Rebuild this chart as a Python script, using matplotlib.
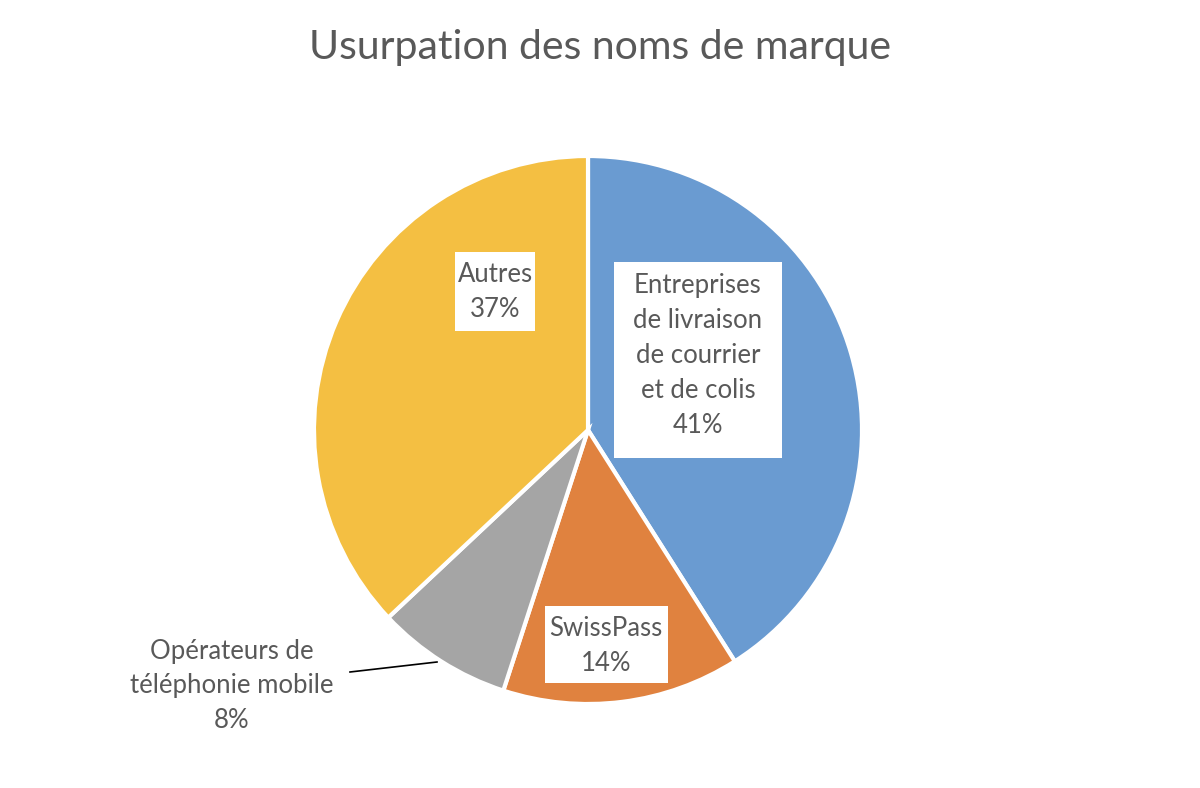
import matplotlib
matplotlib.use("Agg")
import matplotlib.pyplot as plt
from matplotlib.patches import Rectangle

title = "Usurpation des noms de marque"
categories = ["Entreprises\nde livraison\nde courrier\net de colis", "SwissPass",
              "Opérateurs de\ntéléphonie mobile", "Autres"]
values = [41, 14, 8, 37]
colors = ["#6A9BD1", "#E0823F", "#A5A5A5", "#F4BF42"]

W, H = 1200, 788
fig = plt.figure(figsize=(W / 100, H / 100), dpi=100)
ax = fig.add_axes([0, 0, 1, 1])
ax.set_xlim(0, W)
ax.set_ylim(0, H)
ax.set_aspect("equal")
ax.axis("off")

cx, cy, r = 588, H - 430, 274
wedges, _ = ax.pie(values, colors=colors, startangle=90, counterclock=False,
                   center=(cx, cy), radius=r,
                   wedgeprops=dict(edgecolor="white", linewidth=3))
ax.set_xlim(0, W)
ax.set_ylim(0, H)

txtcol = "#595959"
font = "Lato"
fs = 18.5
# label text centres and white label boxes (pixel coords, top-origin: x0, x1, y0, y1)
label_pos = [(698, 355), (606, 646), (232, 686), (495, 292)]
label_box = [(614, 782, 262, 458), (545, 668, 606, 683), None, (455, 535, 252, 331)]
for i, (cat, val) in enumerate(zip(categories, values)):
    x, y = label_pos[i]
    box = label_box[i]
    if box is not None:
        x0, x1, y0, y1 = box
        ax.add_patch(Rectangle((x0, H - y1), x1 - x0, y1 - y0, fc="white", ec="none", zorder=3))
    ax.text(x, H - y, f"{cat}\n{val}%", ha="center", va="center", fontsize=fs,
            color=txtcol, family=font, linespacing=1.5, zorder=4)

# leader line for the small slice
ax.plot([350, 437], [H - 672, H - 662], color="black", lw=1.2)

fig.text(0.5, 1 - 47 / H, title, ha="center", va="center", fontsize=29.5,
         color=txtcol, family=font)

fig.savefig("out.png", dpi=100, facecolor="white")
